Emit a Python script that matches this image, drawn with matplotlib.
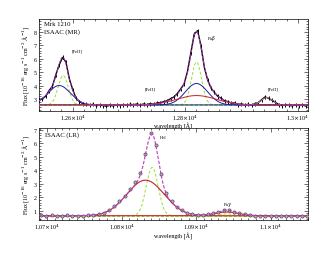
import numpy as np
import matplotlib
matplotlib.use("Agg")
import matplotlib.pyplot as plt
from matplotlib.ticker import MultipleLocator, FixedLocator, FixedFormatter

plt.rcParams['font.family'] = ['Liberation Serif', 'DejaVu Serif']
plt.rcParams['mathtext.fontset'] = 'dejavuserif'

# ---------------- Top panel (ISAAC MR) ----------------
mr_wave = [12540, 12546, 12552, 12558, 12564, 12570, 12576, 12582, 12588, 12594,
           12600, 12606, 12612, 12618, 12624, 12630, 12636, 12642, 12648, 12654,
           12660, 12666, 12672, 12678, 12684, 12690, 12696, 12702, 12708, 12714,
           12720, 12726, 12732, 12738, 12744, 12750, 12756, 12762, 12768, 12774,
           12780, 12786, 12792, 12798, 12804, 12810, 12816, 12822, 12828, 12834,
           12840, 12846, 12852, 12858, 12864, 12870, 12876, 12882, 12888, 12894,
           12900, 12906, 12912, 12918, 12924, 12930, 12936, 12942, 12948, 12954,
           12960, 12966, 12972, 12978, 12984, 12990, 12996, 13002, 13008, 13014, 13020]
mr_flux = [2.95, 3.00, 3.20, 3.62, 3.95, 4.80, 5.55, 6.10, 5.75, 4.50,
           3.70, 3.05, 2.80, 2.65, 2.60, 2.52, 2.60, 2.48, 2.55, 2.50,
           2.45, 2.52, 2.48, 2.55, 2.50, 2.58, 2.52, 2.60, 2.56, 2.62,
           2.55, 2.62, 2.57, 2.65, 2.60, 2.70, 2.72, 2.80, 2.86, 3.02,
           3.15, 3.40, 3.75, 4.12, 5.05, 6.45, 7.85, 8.10, 6.95, 5.35,
           4.40, 3.80, 3.48, 3.18, 3.05, 2.85, 2.80, 2.68, 2.70, 2.58,
           2.62, 2.55, 2.60, 2.52, 2.65, 2.72, 2.95, 3.15, 3.05, 2.90,
           2.76, 2.58, 2.50, 2.58, 2.52, 2.48, 2.56, 2.50, 2.55, 2.47, 2.53]
mr_err = 0.15
mr_cont = 2.55
# Gaussian fit components: (centre, amplitude, sigma)
mr_narrow = [(12583, 2.2, 9), (12820, 3.2, 9), (12945, 0.55, 10)]
mr_broad = [(12576, 1.45, 20), (12820, 1.6, 20)]
mr_vbroad = [(12820, 0.7, 35)]

# ---------------- Bottom panel (ISAAC LR) ----------------
lr_wave = [10692, 10699, 10706, 10713, 10720, 10727, 10734, 10741, 10748, 10755,
           10762, 10769, 10776, 10783, 10790, 10797, 10804, 10811, 10818, 10825,
           10832, 10839, 10846, 10853, 10860, 10867, 10874, 10881, 10888, 10895,
           10902, 10909, 10916, 10923, 10930, 10937, 10944, 10951, 10958, 10965,
           10972, 10979, 10986, 10993, 11000, 11007, 11014, 11021, 11028, 11035,
           11042, 11049]
lr_flux = [0.66, 0.63, 0.65, 0.61, 0.64, 0.66, 0.62, 0.60, 0.64, 0.66,
           0.70, 0.76, 0.86, 1.05, 1.32, 1.70, 2.10, 2.62, 3.10, 3.80,
           5.25, 6.75, 5.90, 3.70, 2.35, 1.70, 1.28, 1.02, 0.84, 0.74,
           0.70, 0.67, 0.72, 0.80, 0.91, 1.03, 1.02, 0.93, 0.80, 0.72,
           0.66, 0.63, 0.64, 0.61, 0.63, 0.62, 0.60, 0.63, 0.61, 0.62,
           0.64, 0.61]
lr_cont = 0.62
lr_narrow = [(10841, 3.6, 8), (10941, 0.15, 8)]
lr_broad = [(10832, 2.65, 25), (10941, 0.28, 16)]

GREEN = '#94e236'
MAG = '#b83cc6'
BLUE = '#1c1ca8'
RED = '#c8202a'


def gauss(x, c, a, s):
    return a * np.exp(-0.5 * ((x - c) / s) ** 2)


fig = plt.figure(figsize=(3.3, 2.55), dpi=100)
ax1 = fig.add_axes([0.118, 0.561, 0.815, 0.361])
ax2 = fig.add_axes([0.118, 0.133, 0.815, 0.361])

fs = 4.3


def style(ax, xmaj, xlabels, xminor, ymin_loc):
    ax.xaxis.set_major_locator(FixedLocator(xmaj))
    ax.xaxis.set_major_formatter(FixedFormatter(xlabels))
    ax.xaxis.set_minor_locator(MultipleLocator(xminor))
    ax.yaxis.set_major_locator(MultipleLocator(1))
    ax.yaxis.set_minor_locator(MultipleLocator(ymin_loc))
    ax.tick_params(which='both', direction='in', top=True, right=True,
                   labelsize=fs, width=0.4, pad=1.5)
    ax.tick_params(which='major', length=3)
    ax.tick_params(which='minor', length=1.5)
    for sp in ax.spines.values():
        sp.set_linewidth(0.5)
    ax.set_xlabel('wavelength [Å]', fontsize=fs, labelpad=0)
    ax.set_ylabel(r'Flux [10$^{-16}$ erg s$^{-1}$ cm$^{-2}$ Å$^{-1}$]',
                  fontsize=fs, labelpad=2)


# ---- top ----
x1 = np.linspace(12540, 13020, 800)
ax1.errorbar(mr_wave, mr_flux, yerr=mr_err, fmt='-', color='k', lw=1.0,
             elinewidth=0.7, capsize=0, zorder=2)
ax1.axhline(mr_cont, color=GREEN, ls='--', lw=0.7, dashes=(3, 2), zorder=3)
total1 = np.full_like(x1, mr_cont)
for c, a, s in mr_narrow:
    ax1.plot(x1, mr_cont + gauss(x1, c, a, s), color=GREEN, ls='--', lw=0.7,
             dashes=(3, 2), zorder=3)
    total1 += gauss(x1, c, a, s)
for c, a, s in mr_broad:
    ax1.plot(x1, mr_cont + gauss(x1, c, a, s), color=BLUE, lw=0.7, zorder=3)
    total1 += gauss(x1, c, a, s)
for c, a, s in mr_vbroad:
    ax1.plot(x1, mr_cont + gauss(x1, c, a, s), color=RED, lw=0.7, zorder=3)
    total1 += gauss(x1, c, a, s)
ax1.plot(x1, total1, color=MAG, ls='--', lw=0.7, dashes=(3, 1.5), zorder=4)
ax1.set_xlim(12540, 13018)
ax1.set_ylim(2.1, 8.98)
style(ax1, [12600, 12800, 13000],
      [r'1.26$\times$10$^4$', r'1.28$\times$10$^4$', r'1.3$\times$10$^4$'], 20, 0.2)
ax1.text(0.02, 0.945, 'Mrk 1210', transform=ax1.transAxes, fontsize=4.8, va='center')
ax1.text(0.02, 0.865, 'ISAAC (MR)', transform=ax1.transAxes, fontsize=4.8, va='center')
lab = 3.3
ax1.text(12607, 6.6, '[FeII]', fontsize=lab, ha='center', va='center')
ax1.text(12847, 7.6, r'Pa$\beta$', fontsize=lab, ha='center', va='center')
ax1.text(12737, 3.75, '[FeII]', fontsize=lab, ha='center', va='center')
ax1.text(12956, 3.8, '[FeII]', fontsize=lab, ha='center', va='center')

# ---- bottom ----
x2 = np.linspace(10689, 11050, 800)
ax2.axhline(lr_cont, color=GREEN, ls='--', lw=0.7, dashes=(3, 2), zorder=2)
total2 = np.full_like(x2, lr_cont)
for c, a, s in lr_narrow:
    ax2.plot(x2, lr_cont + gauss(x2, c, a, s), color=GREEN, ls='--', lw=0.7,
             dashes=(3, 2), zorder=2)
    total2 += gauss(x2, c, a, s)
for c, a, s in lr_broad:
    ax2.plot(x2, lr_cont + gauss(x2, c, a, s), color=RED, lw=0.8, zorder=2)
    total2 += gauss(x2, c, a, s)
ax2.plot(lr_wave, lr_flux, 'o', ms=2.3, mfc='#b8b0b8', mec='#404040', mew=0.45,
         zorder=3)
ax2.plot(x2, total2, color=MAG, ls='--', lw=0.8, dashes=(3, 1.5), zorder=4)
ax2.set_xlim(10689, 11050)
ax2.set_ylim(0.3, 7.15)
style(ax2, [10700, 10800, 10900, 11000],
      [r'1.07$\times$10$^4$', r'1.08$\times$10$^4$', r'1.09$\times$10$^4$',
       r'1.1$\times$10$^4$'], 10, 0.2)
ax2.text(0.022, 0.935, 'ISAAC (LR)', transform=ax2.transAxes, fontsize=4.8, va='center')
ax2.text(10856, 6.5, 'HeI', fontsize=lab, ha='center', va='center')
ax2.text(10943, 1.5, r'Pa$\gamma$', fontsize=lab, ha='center', va='center')

fig.savefig('out.png', dpi=100)
